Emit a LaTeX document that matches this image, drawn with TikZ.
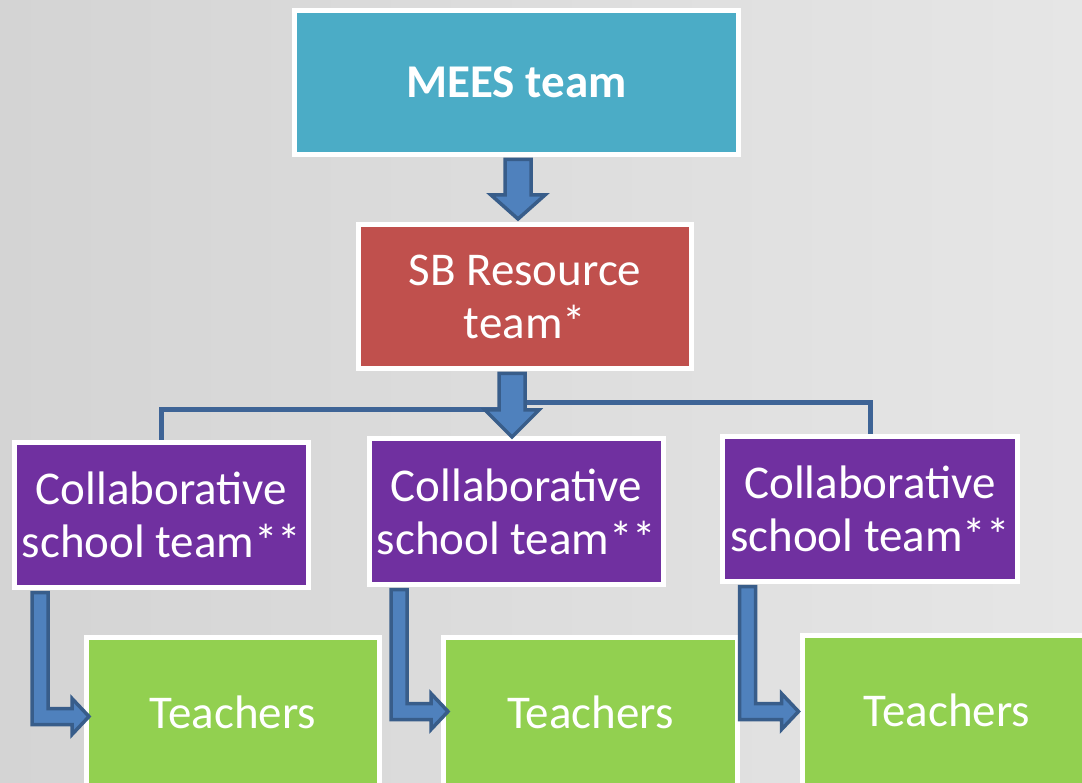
\documentclass[tikz,border=0pt]{standalone}
\usepackage{fontspec}
\setmainfont{Carlito}
\usetikzlibrary{calc,backgrounds}
\definecolor{bgA}{RGB}{212,212,212}
\definecolor{bgB}{RGB}{230,230,230}
\definecolor{meesc}{RGB}{75,172,198}
\definecolor{sbc}{RGB}{192,80,77}
\definecolor{colc}{RGB}{112,48,160}
\definecolor{teac}{RGB}{146,208,80}
\definecolor{arrfill}{RGB}{79,129,189}
\definecolor{arrline}{RGB}{56,93,138}
\definecolor{connc}{RGB}{62,100,150}
\tikzset{
  box/.style={draw=white,line width=5pt,text=white,inner sep=0pt,align=center,
    font=\fontsize{47}{53}\selectfont},
  arr/.style={fill=arrfill,draw=arrline,line width=3.5pt,line join=miter},
  conn/.style={draw=connc,line width=5pt}
}
\newcommand\Larrow[2]{%
 \draw[arr] ($(#1)+(-8,0)$) -- ($(#1)+(8,0)$) -- ($(#1 |- #2)+(8,-8)$) -- ($(#2)+(-17,-8)$) -- ($(#2)+(-17,-18)$) -- (#2) -- ($(#2)+(-17,18)$) -- ($(#2)+(-17,8)$) -- ($(#1 |- #2)+(-8,8)$) -- cycle;}
\newcommand\Darrow[3]{%
 \draw[arr] ($(#1)+(-13,0)$) -- ($(#1)+(13,0)$) -- ($(#2)+(13,-#3)$) -- ($(#2)+(27,-#3)$) -- (#2) -- ($(#2)+(-27,-#3)$) -- ($(#2)+(-13,-#3)$) -- cycle;}
\begin{document}
\begin{tikzpicture}[x=1pt,y=-1pt]
\useasboundingbox (0,0) rectangle (1082,783);
% boxes
\node[box,fill=meesc,minimum width=444pt,minimum height=144pt,font=\fontsize{47}{53}\selectfont\bfseries] (mees) at (516.5,82.5) {MEES team};
\node[box,fill=sbc,minimum width=333pt,minimum height=144pt] (sb) at (525,296.5) {SB Resource\\team*};
\node[box,fill=colc,minimum width=294pt,minimum height=145pt] (c1) at (161.5,515) {Collaborative\\school team**};
\node[box,fill=colc,minimum width=294pt,minimum height=146pt] (c2) at (516.5,511.5) {Collaborative\\school team**};
\node[box,fill=colc,minimum width=295pt,minimum height=145pt] (c3) at (870,509) {Collaborative\\school team**};
\node[box,fill=teac,minimum width=293pt,minimum height=150pt] (t1) at (233,712) {Teachers};
\node[box,fill=teac,minimum width=294pt,minimum height=150pt] (t2) at (590.5,712) {Teachers};
\node[box,fill=teac,minimum width=290pt,minimum height=150pt] (t3) at (947,710) {Teachers};
% background and tree connectors
\begin{scope}[on background layer]
\shade[left color=bgA,right color=bgB] (0,0) rectangle (1082,783);
\draw[conn] (c1.north) -- (c1.north |- 0,410) -- (505,410);
\draw[conn] (c3.north) -- (c3.north |- 0,403) -- (520,403);
\end{scope}
% arrows
\coordinate (d1s) at ($(mees.south)+(1.5,2.5)$);
\coordinate (d1e) at ($(d1s |- sb.north)+(0,-3)$);
\Darrow{d1s}{d1e}{24}
\coordinate (d2s) at ($(sb.south)+(-13,2.5)$);
\coordinate (d2e) at ($(d2s |- c2.north)+(0,1)$);
\Darrow{d2s}{d2e}{27}
\coordinate (l1s) at ($(c1.south west)+(28,2.5)$);
\coordinate (l1e) at ($(t1.west)+(5,4.5)$);
\Larrow{l1s}{l1e}
\coordinate (l2s) at ($(c2.south west)+(32,2.5)$);
\coordinate (l2e) at ($(t2.west)+(7,-0.5)$);
\Larrow{l2s}{l2e}
\coordinate (l3s) at ($(c3.south west)+(27.5,2.5)$);
\coordinate (l3e) at ($(t3.west)+(-1,1.5)$);
\Larrow{l3s}{l3e}
\end{tikzpicture}
\end{document}
